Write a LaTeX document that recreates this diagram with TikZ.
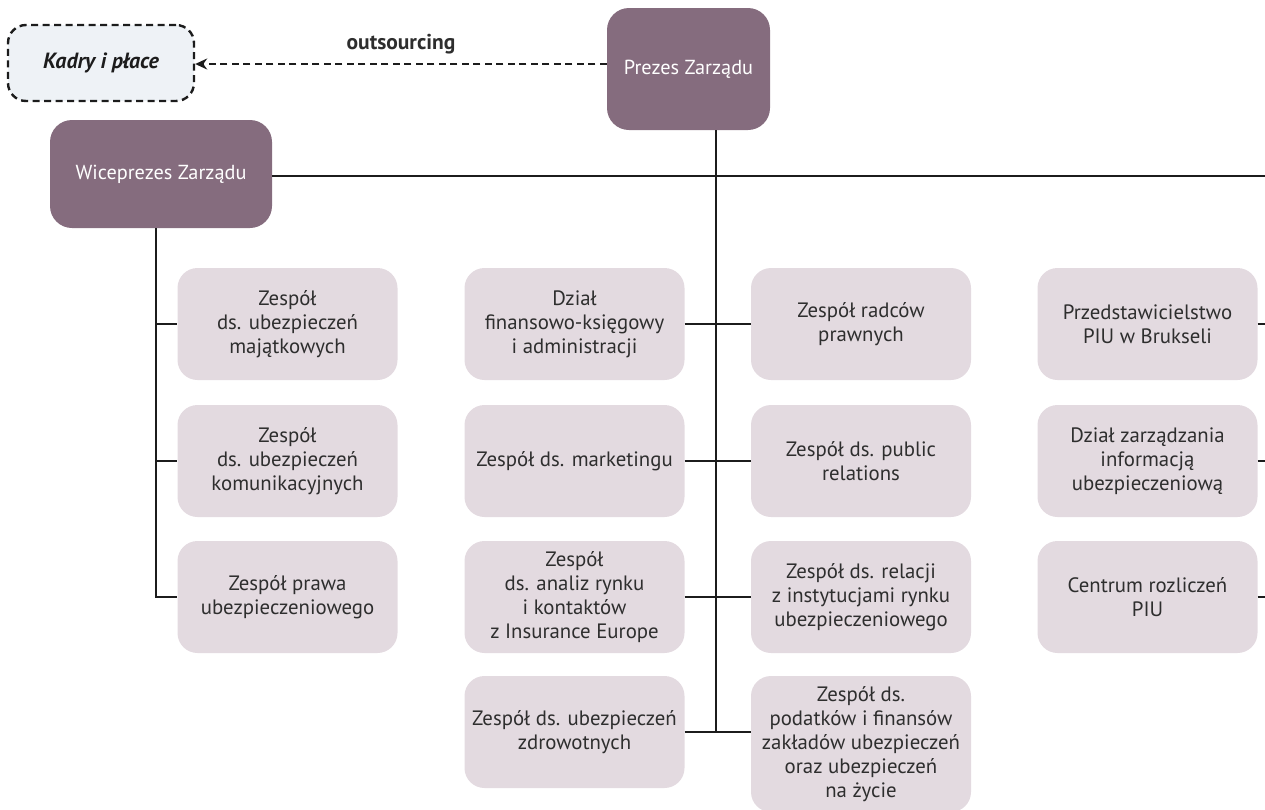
\documentclass[tikz,border=0pt]{standalone}
\usepackage{fontspec}
\setmainfont{PT Sans}
\usetikzlibrary{arrows.meta}
\definecolor{darkbox}{HTML}{856C7E}
\definecolor{lightbox}{HTML}{E3DAE0}
\definecolor{kadryfill}{HTML}{EEF2F6}
\definecolor{txt}{HTML}{2E2E2E}
\definecolor{ln}{HTML}{1C1C1C}
\tikzset{
  darknode/.style={fill=darkbox, rounded corners=22pt, text=white, align=center, font=\fontsize{20.3}{24}\selectfont, inner sep=0pt},
  unitbox/.style={fill=lightbox, rounded corners=20pt, text=txt, align=center, font=\fontsize{20.8}{24}\selectfont, minimum width=220pt, minimum height=112pt, inner sep=0pt},
  conn/.style={draw=ln, line width=2.8pt},
  outs/.style={draw=ln, line width=2.4pt, dash pattern=on 7pt off 4.5pt, -{Stealth[length=12pt,width=11pt]}},
}
\begin{document}
\begin{tikzpicture}[x=1pt,y=-1pt]
\useasboundingbox (0,0) rectangle (1265,809);
% top level
\node[darknode, minimum width=163pt, minimum height=122pt] (prezes) at (688.5,69) {Prezes Zarządu};
\node[darknode, minimum width=222pt, minimum height=108pt] (wice) at (161,174) {Wiceprezes Zarządu};
\node[draw=ln, line width=2.4pt, dash pattern=on 7pt off 4.5pt, fill=kadryfill, rounded corners=18pt, minimum width=186pt, minimum height=76pt, text=ln, font=\fontsize{22}{24}\selectfont\bfseries\itshape] (kadry) at (101,63) {Kadry i płace};
\draw[outs] (prezes.west |- 0,64) coordinate (po) -- (kadry.east |- po) node[midway, above=5pt, text=txt, font=\fontsize{21.5}{24}\selectfont\bfseries] (outlbl) {outsourcing};
% coordinates
\coordinate (trunktop) at (716,130);
\coordinate (trunkbot) at (716,733);
\coordinate (hright) at (1266,176);
\coordinate (wtop) at (156,228);
\coordinate (wbot) at (156,597);
% left column
\node[unitbox] (l1) at (287.5,324) {Zespół\\ds. ubezpieczeń\\majątkowych};
\node[unitbox] (l2) at (287.5,461) {Zespół\\ds. ubezpieczeń\\komunikacyjnych};
\node[unitbox] (l3) at (287.5,597) {Zespół prawa\\ubezpieczeniowego};
% middle-left
\node[unitbox] (m1) at (574.5,324) {Dział\\finansowo-księgowy\\i administracji};
\node[unitbox] (m2) at (574.5,461) {Zespół ds. marketingu};
\node[unitbox] (m3) at (574.5,597) {Zespół\\ds. analiz rynku\\i kontaktów\\z Insurance Europe};
\node[unitbox] (m4) at (574.5,732) {Zespół ds. ubezpieczeń\\zdrowotnych};
% middle-right
\node[unitbox] (r1) at (861,324) {Zespół radców\\prawnych};
\node[unitbox] (r2) at (861,461) {Zespół ds. public\\relations};
\node[unitbox] (r3) at (861,597) {Zespół ds. relacji\\z instytucjami rynku\\ubezpieczeniowego};
\node[unitbox, minimum height=136pt] (r4) at (861,744) {Zespół ds.\\podatków i finansów\\zakładów ubezpieczeń\\oraz ubezpieczeń\\na życie};
% right column
\node[unitbox] (x1) at (1147.5,324) {Przedstawicielstwo\\PIU w Brukseli};
\node[unitbox] (x2) at (1147.5,461) {Dział zarządzania\\informacją\\ubezpieczeniową};
\node[unitbox] (x3) at (1147.5,597) {Centrum rozliczeń\\PIU};
% connectors
\draw[conn] (prezes.south -| trunktop) -- (trunkbot);
\draw[conn] (wice.east |- hright) -- (hright);
\draw[conn] (wice.south -| wtop) -- (wbot) -- (l3.west);
\draw[conn] (wtop |- l1.west) -- (l1.west);
\draw[conn] (wtop |- l2.west) -- (l2.west);
\draw[conn] (m1.east) -- (r1.west);
\draw[conn] (m2.east) -- (r2.west);
\draw[conn] (m3.east) -- (r3.west);
\draw[conn] (m4.east) -- (r4.west |- m4.east);
\draw[conn] (x1.east) -- (x1.east -| hright);
\draw[conn] (x2.east) -- (x2.east -| hright);
\draw[conn] (x3.east) -- (x3.east -| hright);
\end{tikzpicture}
\end{document}
